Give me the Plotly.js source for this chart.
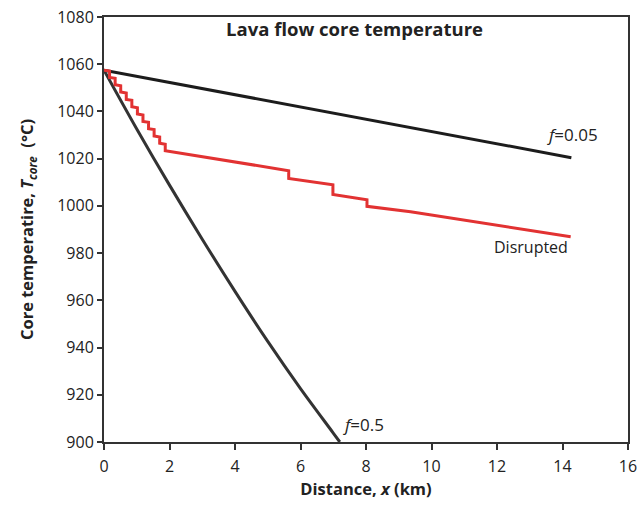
<!DOCTYPE html>
<html>
<head>
<meta charset="utf-8">
<script src="https://cdn.plot.ly/plotly-3.0.1.min.js"></script>
<style>html,body{margin:0;padding:0;background:#fff;}#chart{width:638px;height:508px;}</style>
</head>
<body>
<div id="chart"></div>
<script>
// f = 0.05 curve
const xF005 = [0, 2, 4, 6, 8, 10, 12, 14.27];
const yF005 = [1057.5, 1052.3, 1047.1, 1041.9, 1036.7, 1031.5, 1026.2, 1020.4];

// f = 0.5 curve
const xF05 = [0, 1, 2, 3, 4, 5, 6, 7, 7.2];
const yF05 = [1057.5, 1032.6, 1008.8, 985.9, 963.8, 942.6, 922.6, 903.8, 900];

// Disrupted flow (stepped)
const xDis = [0, 0.17, 0.17, 0.34, 0.34, 0.51, 0.51, 0.68, 0.68, 0.85, 0.85, 1.02, 1.02, 1.19, 1.19, 1.36, 1.36, 1.53, 1.53, 1.70, 1.70, 1.87, 1.87, 3.24, 4.77, 5.64, 5.64, 6.99, 6.99, 8.03, 8.03, 9.36, 14.25];
const yDis = [1057.5, 1057.1, 1054.4, 1054.0, 1051.3, 1050.9, 1048.2, 1047.8, 1045.1, 1044.7, 1042.0, 1041.6, 1038.9, 1038.5, 1035.8, 1035.4, 1032.7, 1032.3, 1029.6, 1029.2, 1026.5, 1026.1, 1023.4, 1020.2, 1016.9, 1014.9, 1011.6, 1008.9, 1004.8, 1002.6, 999.8, 997.5, 986.9];

const xTicks = [0, 2, 4, 6, 8, 10, 12, 14, 16];
const yTicks = [900, 920, 940, 960, 980, 1000, 1020, 1040, 1060, 1080];

const font = "Open Sans, Noto Sans, sans-serif";
const traces = [
  {x: xF005, y: yF005, mode: 'lines', line: {color: '#1c1c1c', width: 3}, hoverinfo: 'skip'},
  {x: xF05, y: yF05, mode: 'lines', line: {color: '#333333', width: 3, shape: 'spline', smoothing: 1}, hoverinfo: 'skip'},
  {x: xDis, y: yDis, mode: 'lines', line: {color: '#e23232', width: 3}, hoverinfo: 'skip'}
];

const layout = {
  width: 638, height: 508,
  margin: {l: 104, r: 10, t: 17, b: 66},
  paper_bgcolor: '#ffffff', plot_bgcolor: '#ffffff',
  showlegend: false,
  font: {family: font, color: '#222', size: 16},
  xaxis: {
    range: [0, 16], tickvals: xTicks, ticktext: xTicks.map(String),
    showgrid: false, zeroline: false, showline: true, linecolor: '#333', linewidth: 2,
    mirror: true, ticks: 'outside', ticklen: 6, tickwidth: 2, tickcolor: '#333',
    ticklabelstandoff: 3,
    tickfont: {size: 16, color: '#222'},
    title: {text: '<b>Distance, <i>x</i> (km)</b>', font: {size: 16.5, color: '#222'}, standoff: 6}
  },
  yaxis: {
    range: [900, 1080], tickvals: yTicks, ticktext: yTicks.map(String),
    showgrid: false, zeroline: false, showline: true, linecolor: '#333', linewidth: 2,
    mirror: true, ticks: 'outside', ticklen: 5, tickwidth: 2, tickcolor: '#333',
    tickfont: {size: 16, color: '#222'},
    title: {text: '<b>Core temperatire, <i>T<sub>core</sub></i>&nbsp;&nbsp;(°C)</b>', font: {size: 16.5, color: '#222'}, standoff: 19}
  },
  annotations: [
    {xref: 'paper', yref: 'paper', x: 0.479, y: 0.973, text: '<b>Lava flow core temperature</b>', showarrow: false, font: {size: 18.5, color: '#222'}, xanchor: 'center', yanchor: 'middle'},
    {xref: 'x', yref: 'y', x: 14.31, y: 1030.4, text: '<i>f</i>=0.05', showarrow: false, font: {size: 17, color: '#222'}, xanchor: 'center', yanchor: 'middle'},
    {xref: 'x', yref: 'y', x: 13.05, y: 982.7, text: 'Disrupted', showarrow: false, font: {size: 16, color: '#222'}, xanchor: 'center', yanchor: 'middle'},
    {xref: 'x', yref: 'y', x: 7.92, y: 907.3, text: '<i>f</i>=0.5', showarrow: false, font: {size: 17, color: '#222'}, xanchor: 'center', yanchor: 'middle'}
  ]
};

Plotly.newPlot('chart', traces, layout, {staticPlot: true, displayModeBar: false});
</script>
</body>
</html>
